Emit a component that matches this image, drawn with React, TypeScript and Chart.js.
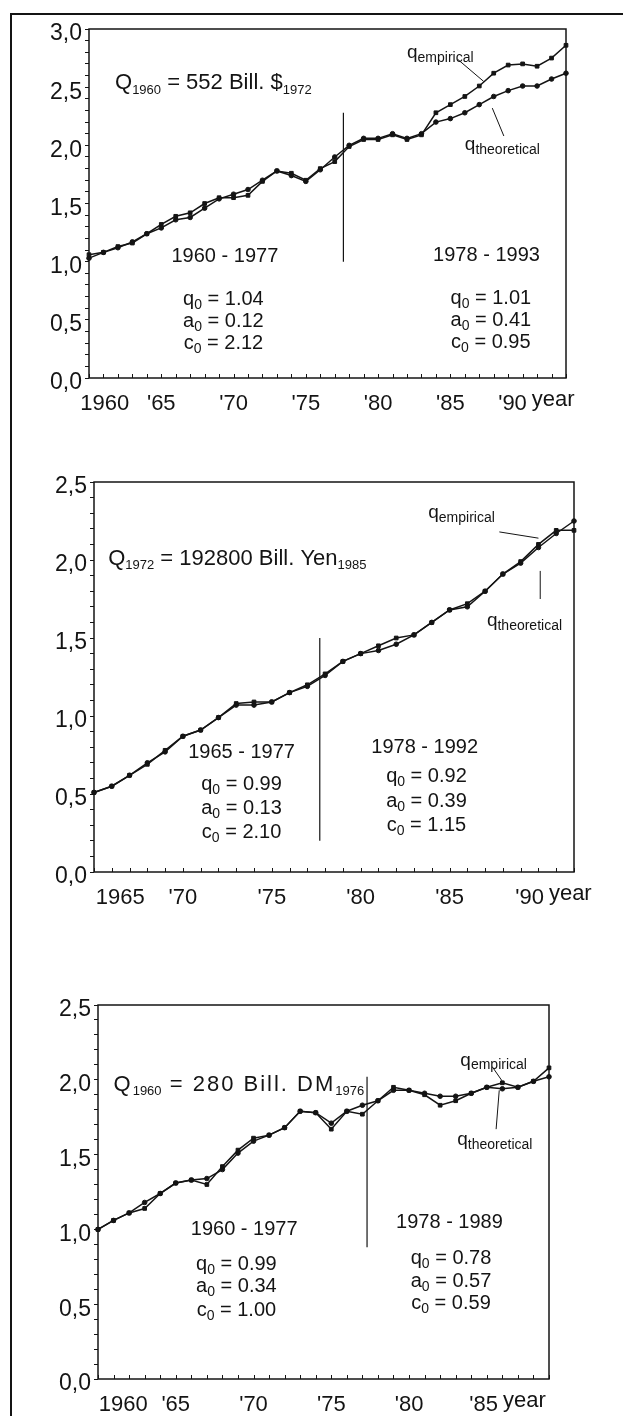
import React, { useEffect, useRef } from 'react';
import { Chart, registerables } from 'chart.js';

Chart.register(...registerables);

const FONT = '"Liberation Sans", Arial, Helvetica, sans-serif';
const INK = '#141414';
const PAGE_W = 623;

// ---------------- Panel 1: USA ----------------
const usYears = [1960, 1961, 1962, 1963, 1964, 1965, 1966, 1967, 1968, 1969, 1970, 1971, 1972, 1973, 1974, 1975, 1976, 1977, 1978, 1979, 1980, 1981, 1982, 1983, 1984, 1985, 1986, 1987, 1988, 1989, 1990, 1991, 1992, 1993];
const usEmpirical = [1.06, 1.08, 1.13, 1.16, 1.24, 1.32, 1.39, 1.42, 1.5, 1.55, 1.55, 1.57, 1.69, 1.78, 1.76, 1.7, 1.8, 1.86, 1.99, 2.05, 2.05, 2.09, 2.05, 2.09, 2.28, 2.35, 2.42, 2.51, 2.62, 2.69, 2.7, 2.68, 2.75, 2.86];
const usTheoretical = [1.03, 1.08, 1.12, 1.17, 1.24, 1.29, 1.36, 1.38, 1.46, 1.54, 1.58, 1.62, 1.7, 1.78, 1.74, 1.69, 1.79, 1.9, 2.0, 2.06, 2.06, 2.1, 2.06, 2.1, 2.2, 2.23, 2.28, 2.35, 2.42, 2.47, 2.51, 2.51, 2.57, 2.62];
const usTickYears = [1960, 1965, 1970, 1975, 1980, 1985, 1990];
const usTickLabels = ['1960', "'65", "'70", "'75", "'80", "'85", "'90"];
const usPeriods = ['1960 - 1977', '1978 - 1993'];
const usQ0 = ['1.04', '1.01'];
const usA0 = ['0.12', '0.41'];
const usC0 = ['2.12', '0.95'];
const usBase = ['1960', ' = 552 Bill. $', '1972'];

// ---------------- Panel 2: Japan ----------------
const jpYears = [1965, 1966, 1967, 1968, 1969, 1970, 1971, 1972, 1973, 1974, 1975, 1976, 1977, 1978, 1979, 1980, 1981, 1982, 1983, 1984, 1985, 1986, 1987, 1988, 1989, 1990, 1991, 1992];
const jpEmpirical = [0.51, 0.55, 0.62, 0.69, 0.78, 0.87, 0.91, 0.99, 1.08, 1.09, 1.09, 1.15, 1.2, 1.27, 1.35, 1.4, 1.45, 1.5, 1.52, 1.6, 1.68, 1.72, 1.8, 1.91, 1.99, 2.1, 2.19, 2.19];
const jpTheoretical = [0.51, 0.55, 0.62, 0.7, 0.77, 0.87, 0.91, 0.99, 1.07, 1.07, 1.09, 1.15, 1.19, 1.26, 1.35, 1.4, 1.42, 1.46, 1.52, 1.6, 1.68, 1.7, 1.8, 1.91, 1.98, 2.08, 2.17, 2.25];
const jpTickYears = [1965, 1970, 1975, 1980, 1985, 1990];
const jpTickLabels = ['1965', "'70", "'75", "'80", "'85", "'90"];
const jpPeriods = ['1965 - 1977', '1978 - 1992'];
const jpQ0 = ['0.99', '0.92'];
const jpA0 = ['0.13', '0.39'];
const jpC0 = ['2.10', '1.15'];
const jpBase = ['1972', ' = 192800 Bill. Yen', '1985'];

// ---------------- Panel 3: Germany ----------------
const deYears = [1960, 1961, 1962, 1963, 1964, 1965, 1966, 1967, 1968, 1969, 1970, 1971, 1972, 1973, 1974, 1975, 1976, 1977, 1978, 1979, 1980, 1981, 1982, 1983, 1984, 1985, 1986, 1987, 1988, 1989];
const deEmpirical = [1.0, 1.06, 1.11, 1.14, 1.24, 1.31, 1.33, 1.3, 1.42, 1.53, 1.61, 1.63, 1.68, 1.79, 1.78, 1.67, 1.79, 1.77, 1.86, 1.95, 1.93, 1.9, 1.83, 1.86, 1.91, 1.95, 1.98, 1.95, 1.99, 2.08];
const deTheoretical = [1.0, 1.06, 1.11, 1.18, 1.24, 1.31, 1.33, 1.34, 1.4, 1.51, 1.59, 1.63, 1.68, 1.79, 1.78, 1.71, 1.79, 1.83, 1.86, 1.93, 1.93, 1.91, 1.89, 1.89, 1.91, 1.95, 1.94, 1.95, 1.99, 2.02];
const deTickYears = [1960, 1965, 1970, 1975, 1980, 1985];
const deTickLabels = ['1960', "'65", "'70", "'75", "'80", "'85"];
const dePeriods = ['1960 - 1977', '1978 - 1989'];
const deQ0 = ['0.99', '0.78'];
const deA0 = ['0.34', '0.57'];
const deC0 = ['1.00', '0.59'];
const deBase = ['1960', ' = 280 Bill. DM', '1976'];

type Seg = { t: string; sub?: boolean };
type Note = { x: number; y: number; segs: Seg[]; size: number; subSize: number; align: 'left' | 'center'; spacing?: number };

interface Panel {
  top: number;
  height: number;
  area: { left: number; right: number; top: number; bottom: number };
  years: number[];
  emp: number[];
  theo: number[];
  yMax: number;
  tickYears: number[];
  tickLabels: string[];
  firstShift: number;
  lastShift: number;
  notes: Note[];
  pointers: number[][];
  split: { x: number; y1: number; y2: number };
}

function paramNotes(q: string[], a: string[], c: string[], xs: number[], ys: number[][]): Note[] {
  const out: Note[] = [];
  for (let i = 0; i < 2; i++) {
    const rows: [string, string][] = [['q', q[i]], ['a', a[i]], ['c', c[i]]];
    rows.forEach((r, k) => {
      out.push({ x: xs[i], y: ys[i][k], segs: [{ t: r[0] }, { t: '0', sub: true }, { t: ' = ' + r[1] }], size: 20, subSize: 14, align: 'center' });
    });
  }
  return out;
}

function label(name: string): Seg[] {
  return [{ t: 'q' }, { t: name, sub: true }];
}

const panels: Panel[] = [
  {
    top: 0,
    height: 420,
    area: { left: 89, right: 566, top: 29, bottom: 378 },
    years: usYears,
    emp: usEmpirical,
    theo: usTheoretical,
    yMax: 3.0,
    tickYears: usTickYears,
    tickLabels: usTickLabels,
    firstShift: -0.6,
    lastShift: -0.7,
    split: { x: 1977.6, y1: 2.28, y2: 1.0 },
    pointers: [
      [1985.5, 2.74, 1987.3, 2.55],
      [1987.9, 2.32, 1988.7, 2.08],
    ],
    notes: [
      { x: 1961.8, y: 2.55, segs: [{ t: 'Q' }, { t: usBase[0], sub: true }, { t: usBase[1] }, { t: usBase[2], sub: true }], size: 22, subSize: 13, align: 'left' },
      { x: 1982.0, y: 2.81, segs: label('empirical'), size: 19, subSize: 14, align: 'left' },
      { x: 1986.0, y: 2.02, segs: label('theoretical'), size: 19, subSize: 14, align: 'left' },
      { x: 1969.4, y: 1.06, segs: [{ t: usPeriods[0] }], size: 20, subSize: 14, align: 'center' },
      { x: 1987.5, y: 1.07, segs: [{ t: usPeriods[1] }], size: 20, subSize: 14, align: 'center' },
      ...paramNotes(usQ0, usA0, usC0, [1969.3, 1987.8], [[0.69, 0.5, 0.31], [0.7, 0.51, 0.32]]),
    ],
  },
  {
    top: 420,
    height: 510,
    area: { left: 94, right: 574, top: 482, bottom: 872 },
    years: jpYears,
    emp: jpEmpirical,
    theo: jpTheoretical,
    yMax: 2.5,
    tickYears: jpTickYears,
    tickLabels: jpTickLabels,
    firstShift: 0.1,
    lastShift: -0.5,
    split: { x: 1977.7, y1: 1.5, y2: 0.2 },
    pointers: [
      [1987.8, 2.18, 1990.0, 2.14],
      [1990.1, 1.93, 1990.1, 1.75],
    ],
    notes: [
      { x: 1965.8, y: 2.02, segs: [{ t: 'Q' }, { t: jpBase[0], sub: true }, { t: jpBase[1] }, { t: jpBase[2], sub: true }], size: 22, subSize: 13, align: 'left' },
      { x: 1983.8, y: 2.31, segs: label('empirical'), size: 19, subSize: 14, align: 'left' },
      { x: 1987.1, y: 1.62, segs: label('theoretical'), size: 19, subSize: 14, align: 'left' },
      { x: 1973.3, y: 0.78, segs: [{ t: jpPeriods[0] }], size: 20, subSize: 14, align: 'center' },
      { x: 1983.6, y: 0.81, segs: [{ t: jpPeriods[1] }], size: 20, subSize: 14, align: 'center' },
      ...paramNotes(jpQ0, jpA0, jpC0, [1973.3, 1983.7], [[0.575, 0.42, 0.265], [0.62, 0.465, 0.31]]),
    ],
  },
  {
    top: 930,
    height: 486,
    area: { left: 98, right: 549, top: 1005, bottom: 1379 },
    years: deYears,
    emp: deEmpirical,
    theo: deTheoretical,
    yMax: 2.5,
    tickYears: deTickYears,
    tickLabels: deTickLabels,
    firstShift: 0.05,
    lastShift: -0.2,
    split: { x: 1977.3, y1: 2.02, y2: 0.88 },
    pointers: [
      [1985.4, 2.08, 1986.0, 1.99],
      [1985.8, 1.93, 1985.6, 1.67],
    ],
    notes: [
      { x: 1961.0, y: 1.98, segs: [{ t: 'Q' }, { t: deBase[0], sub: true }, { t: deBase[1] }, { t: deBase[2], sub: true }], size: 22, subSize: 13, align: 'left', spacing: 2 },
      { x: 1983.3, y: 2.14, segs: label('empirical'), size: 19, subSize: 14, align: 'left' },
      { x: 1983.1, y: 1.61, segs: label('theoretical'), size: 19, subSize: 14, align: 'left' },
      { x: 1969.4, y: 1.01, segs: [{ t: dePeriods[0] }], size: 20, subSize: 14, align: 'center' },
      { x: 1982.6, y: 1.06, segs: [{ t: dePeriods[1] }], size: 20, subSize: 14, align: 'center' },
      ...paramNotes(deQ0, deA0, deC0, [1968.9, 1982.7], [[0.78, 0.63, 0.47], [0.82, 0.665, 0.515]]),
    ],
  },
];

function drawRich(ctx: CanvasRenderingContext2D, n: Note, px: number, py: number) {
  const sp = n.spacing || 0;
  const fontOf = (s: Seg) => `${s.sub ? n.subSize : n.size}px ${FONT}`;
  let total = 0;
  const widths = n.segs.map((s) => {
    ctx.font = fontOf(s);
    (ctx as any).letterSpacing = s.sub ? '0px' : `${sp}px`;
    const w = ctx.measureText(s.t).width;
    total += w;
    return w;
  });
  let cx = n.align === 'center' ? px - total / 2 : px;
  const base = py + n.size * 0.36;
  ctx.textAlign = 'left';
  ctx.textBaseline = 'alphabetic';
  n.segs.forEach((s, i) => {
    ctx.font = fontOf(s);
    (ctx as any).letterSpacing = s.sub ? '0px' : `${sp}px`;
    ctx.fillText(s.t, cx, s.sub ? base + n.size * 0.2 : base);
    cx += widths[i];
  });
  (ctx as any).letterSpacing = '0px';
}

function makePlugin(p: Panel) {
  return {
    id: 'paperDecor',
    afterDraw(chart: any) {
      const { ctx, chartArea: a } = chart;
      const x = chart.scales.x;
      const y = chart.scales.y;
      ctx.save();
      ctx.strokeStyle = INK;
      ctx.fillStyle = INK;
      // plot frame
      ctx.lineWidth = 1.5;
      ctx.strokeRect(a.left, a.top, a.right - a.left, a.bottom - a.top);
      // inward year ticks
      ctx.lineWidth = 1;
      ctx.beginPath();
      p.years.forEach((yr) => {
        const px = Math.round(x.getPixelForValue(yr)) + 0.5;
        ctx.moveTo(px, a.bottom);
        ctx.lineTo(px, a.bottom - 4);
      });
      ctx.stroke();
      // x labels
      ctx.font = `22px ${FONT}`;
      ctx.textBaseline = 'alphabetic';
      const base = a.bottom + 32;
      let lastRight = 0;
      p.tickYears.forEach((yr, i) => {
        const last = i === p.tickYears.length - 1;
        const w = ctx.measureText(p.tickLabels[i]).width;
        if (i === 0) {
          ctx.textAlign = 'left';
          ctx.fillText(p.tickLabels[i], x.getPixelForValue(yr + p.firstShift), base);
        } else {
          const px = x.getPixelForValue(yr + (last ? p.lastShift : 0));
          ctx.textAlign = 'center';
          ctx.fillText(p.tickLabels[i], px, base);
          if (last) lastRight = px + w / 2;
        }
      });
      ctx.textAlign = 'left';
      ctx.fillText('year', lastRight + 5, base - 4);
      // split line
      ctx.lineWidth = 1.2;
      ctx.beginPath();
      const sx = x.getPixelForValue(p.split.x);
      ctx.moveTo(sx, y.getPixelForValue(p.split.y1));
      ctx.lineTo(sx, y.getPixelForValue(p.split.y2));
      ctx.stroke();
      // pointer lines
      ctx.lineWidth = 1;
      p.pointers.forEach((l) => {
        ctx.beginPath();
        ctx.moveTo(x.getPixelForValue(l[0]), y.getPixelForValue(l[1]));
        ctx.lineTo(x.getPixelForValue(l[2]), y.getPixelForValue(l[3]));
        ctx.stroke();
      });
      // text notes
      p.notes.forEach((n) => drawRich(ctx, n, x.getPixelForValue(n.x), y.getPixelForValue(n.y)));
      ctx.restore();
    },
  };
}

function PanelChart({ p }: { p: Panel }) {
  const ref = useRef<HTMLCanvasElement | null>(null);
  useEffect(() => {
    if (!ref.current) return;
    const yAxisW = p.area.left;
    const xAxisH = p.top + p.height - p.area.bottom;
    const ds = (vals: number[], style: string, r: number) => ({
      data: p.years.map((yr, i) => ({ x: yr, y: vals[i] })),
      borderColor: INK,
      backgroundColor: INK,
      borderWidth: 1.5,
      pointStyle: style,
      pointRadius: r,
      pointBorderWidth: 1,
      pointBackgroundColor: INK,
      pointBorderColor: INK,
      tension: 0,
      clip: false as any,
    });
    const chart = new Chart(ref.current, {
      type: 'line',
      data: {
        datasets: [
          { label: 'q empirical', ...ds(p.emp, 'rect', 2.6) },
          { label: 'q theoretical', ...ds(p.theo, 'circle', 2.3) },
        ],
      },
      options: {
        responsive: false,
        maintainAspectRatio: false,
        animation: false,
        events: [],
        layout: { padding: { top: p.area.top - p.top, right: PAGE_W - p.area.right, left: 0, bottom: 0 } },
        plugins: { legend: { display: false }, tooltip: { enabled: false } },
        scales: {
          x: {
            type: 'linear',
            min: p.years[0],
            max: p.years[p.years.length - 1],
            afterFit: (s: any) => {
              s.height = xAxisH;
            },
            ticks: { display: false },
            grid: { display: false },
            border: { display: false },
          },
          y: {
            min: 0,
            max: p.yMax,
            afterFit: (s: any) => {
              s.width = yAxisW;
            },
            afterBuildTicks: (s: any) => {
              const t: { value: number }[] = [];
              for (let k = 0; k <= Math.round(p.yMax * 10); k++) t.push({ value: k / 10 });
              s.ticks = t;
            },
            ticks: {
              autoSkip: false,
              padding: 3,
              labelOffset: 5,
              color: INK,
              font: { family: FONT, size: 23 },
              callback: (v: any) => {
                const n = Number(v);
                if (Math.abs(n * 2 - Math.round(n * 2)) > 1e-6) return '';
                return n.toFixed(1).replace('.', ',');
              },
            },
            grid: { drawOnChartArea: false, tickLength: 4, color: INK, lineWidth: 1 },
            border: { display: false },
          },
        },
      },
      plugins: [makePlugin(p)],
    } as any);
    return () => chart.destroy();
  }, [p]);
  return (
    <div style={{ position: 'absolute', left: 0, top: p.top, width: PAGE_W, height: p.height }}>
      <canvas ref={ref} width={PAGE_W} height={p.height} style={{ display: 'block' }} />
    </div>
  );
}

export default function App() {
  return (
    <div style={{ position: 'absolute', left: 0, top: 0, width: PAGE_W, height: 1416, background: '#fff', overflow: 'hidden' }}>
      <div style={{ position: 'absolute', left: 10, top: 13, width: PAGE_W - 10, height: 1416 - 13, borderLeft: `2px solid ${INK}`, borderTop: `2px solid ${INK}`, boxSizing: 'border-box' }} />
      {panels.map((p, i) => (
        <PanelChart key={i} p={p} />
      ))}
    </div>
  );
}
